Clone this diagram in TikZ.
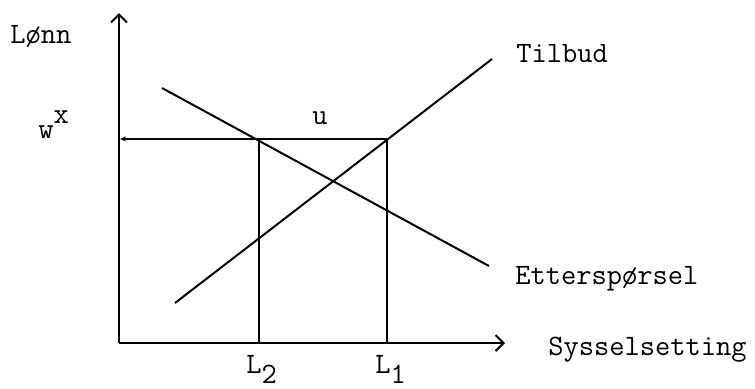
\documentclass[tikz,border=0pt]{standalone}
\usepackage{fontspec}
\usetikzlibrary{arrows.meta}
\tikzset{
  akse/.style={line width=1pt,-{Straight Barb[length=4pt,width=8pt]}},
  linje/.style={line width=1pt},
  merke/.style={inner sep=0pt,font=\ttfamily\fontsize{14.8}{16}\selectfont}
}
\begin{document}
\begin{tikzpicture}[x=0.5pt,y=-0.5pt]
\useasboundingbox (0,0) rectangle (755,388);
\coordinate (origo) at (119,343);
\coordinate (ytopp) at (119,13);
\coordinate (xende) at (505,343);
\coordinate (wakse) at (120,139);
\coordinate (e2) at (259,139);
\coordinate (e1) at (387,139);
\coordinate (f2) at (259,343);
\coordinate (f1) at (387,343);
\coordinate (tstart) at (175,303);
\coordinate (tslutt) at (492,59);
\coordinate (estart) at (162,88);
\coordinate (eslutt) at (489,266);
\draw[akse] (origo) -- (ytopp);
\draw[akse] (origo) -- (xende);
\draw[linje,-{Stealth[length=3pt,width=2.5pt]}] (e1) -- (wakse);
\draw[linje] (e2) -- (f2);
\draw[linje] (e1) -- (f1);
\draw[linje] (tstart) -- (tslutt);
\draw[linje] (estart) -- (eslutt);
\node[merke,anchor=base west] (lonn) at (10,43) {Lønn};
\node[merke,anchor=base west] (wstjerne) at (38,138) {w\raisebox{1.1ex}{x}};
\node[merke,anchor=base] (u) at (320,124) {u};
\node[merke,anchor=base west] (tilbud) at (516,62) {Tilbud};
\node[merke,anchor=base west] (ettersporsel) at (515,284) {Etterspørsel};
\node[merke,anchor=base west] (syssel) at (548,355) {Sysselsetting};
\node[merke,anchor=base west] (l2) at (246,373) {L\raisebox{-0.8ex}{2}};
\node[merke,anchor=base west] (l1) at (375,373) {L\raisebox{-0.8ex}{1}};
\end{tikzpicture}
\end{document}
